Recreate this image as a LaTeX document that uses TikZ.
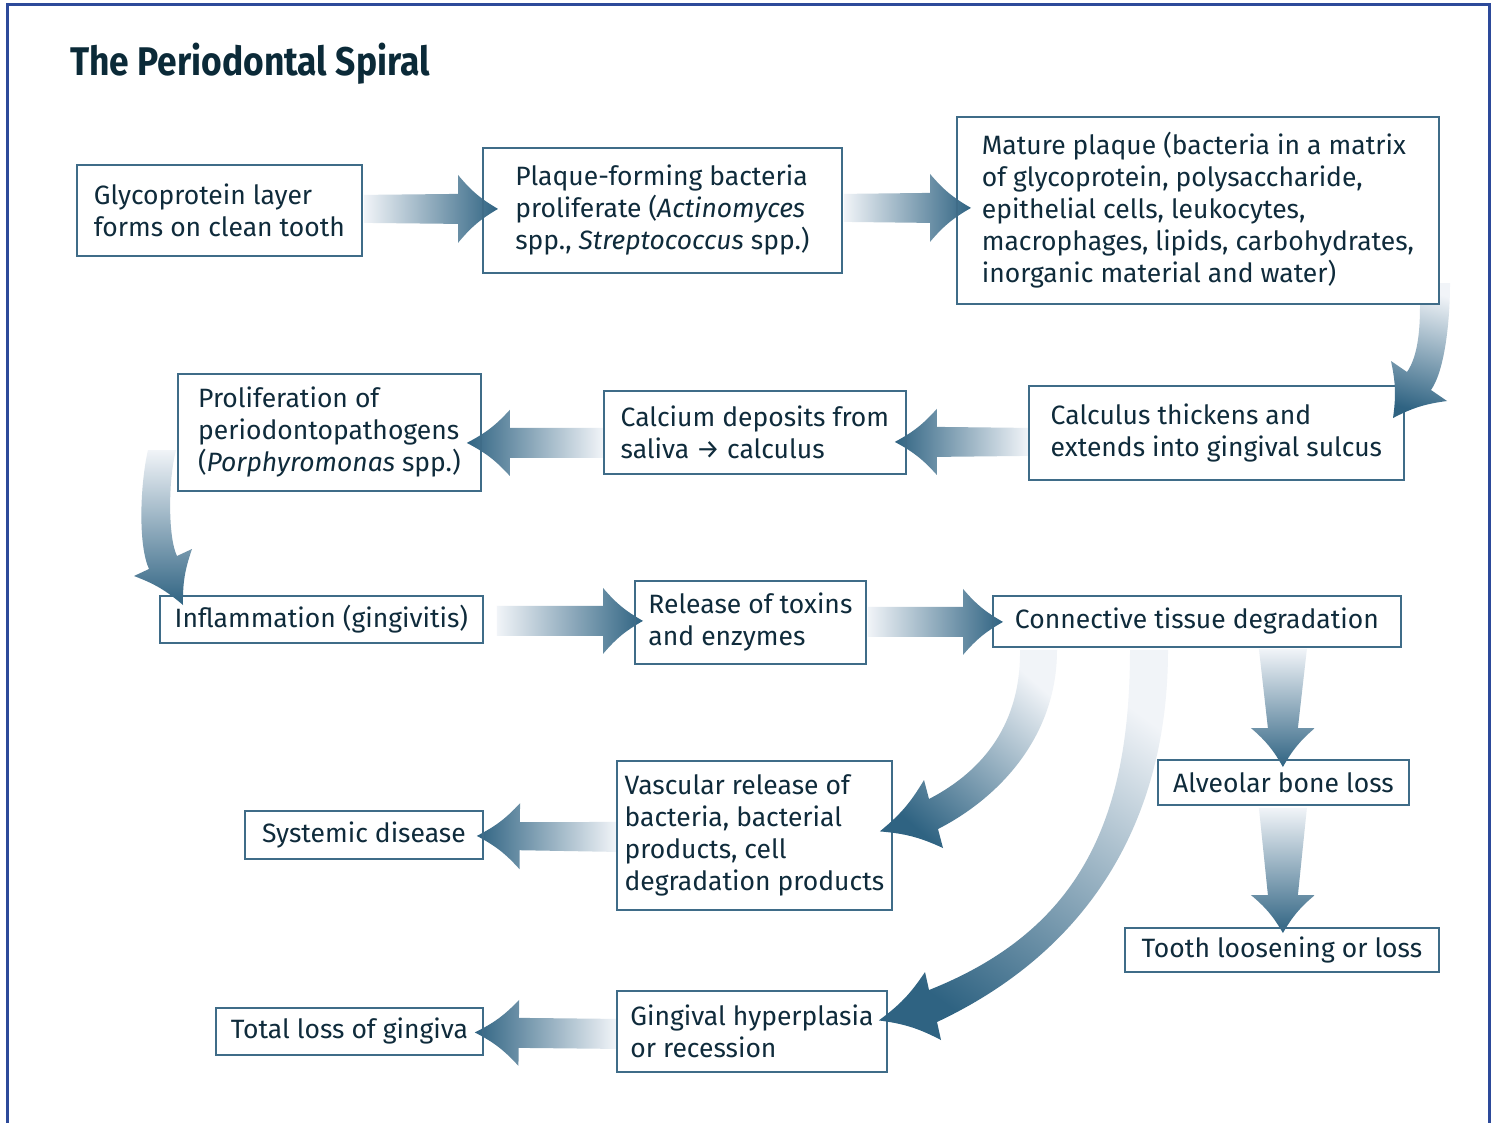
\documentclass[tikz,border=0pt]{standalone}
\usepackage{fontspec}
\usepackage{graphicx}
\setmainfont{Fira Sans}
\usetikzlibrary{calc}
\definecolor{framec}{HTML}{2D4A9A}
\definecolor{boxc}{HTML}{3F6C88}
\definecolor{txtc}{HTML}{0F2B3B}
\definecolor{titlec}{HTML}{0B2A38}
\definecolor{alight}{HTML}{F1F4F8}
\definecolor{adark}{HTML}{2F6382}
% straight fat arrow: #1 shading, #2 tail, #3 tip, #4 tail half width, #5 shaft half width at head, #6 head half width, #7 head length
\newcommand\fatarrow[7]{%
  \coordinate (fa-t) at (#2);
  \coordinate (fa-p) at (#3);
  \coordinate (fa-h) at ($(fa-p)!#7!(fa-t)$);
  \shade[#1] ($(fa-t)!#4!90:(fa-p)$) -- ($(fa-h)!#5!90:(fa-p)$) -- ($(fa-h)!#6!90:(fa-p)$)
     to[bend right=10] (fa-p) to[bend right=10] ($(fa-h)!#6!-90:(fa-p)$)
     -- ($(fa-h)!#5!-90:(fa-p)$) -- ($(fa-t)!#4!-90:(fa-p)$) -- cycle;
}
\begin{document}
\begin{tikzpicture}[x=1pt,y=-1pt,
  box/.style={draw=boxc, line width=1.8pt, text=txtc, align=left, anchor=north west,
    inner sep=0pt, font=\fontsize{26.5}{32}\selectfont},
  rarr/.style={left color=alight, right color=adark},
  larr/.style={left color=adark, right color=alight},
  darr/.style={top color=alight, bottom color=adark}]
\useasboundingbox (0,0) rectangle (1496,1122);
\fill[white] (0,0) rectangle (1496,1122);
\draw[framec, line width=3pt] (7,1130) -- (7,4) -- (1489,4) -- (1489,1130);

\node[anchor=base west, inner sep=0pt, text=titlec] (title) at (70,75)
  {\scalebox{0.885}[1]{\fontsize{40}{44}\selectfont\bfseries The Periodontal Spiral}};

% boxes (coordinates only, drawn later)
\path
 node[box, minimum width=285pt, minimum height=91pt, draw=none] (gly) at (76,164) {\phantom{x}}
 node[box, minimum width=359pt, minimum height=125pt, draw=none] (plq) at (482,147) {\phantom{x}}
 node[box, minimum width=482pt, minimum height=187pt, draw=none] (mat) at (956,116) {\phantom{x}}
 node[box, minimum width=375pt, minimum height=94pt, draw=none] (cth) at (1028,385) {\phantom{x}}
 node[box, minimum width=302pt, minimum height=83pt, draw=none] (cal) at (603,390) {\phantom{x}}
 node[box, minimum width=303pt, minimum height=117pt, draw=none] (pro) at (177,373) {\phantom{x}}
 node[box, minimum width=323pt, minimum height=47pt, draw=none] (inf) at (159,595) {\phantom{x}}
 node[box, minimum width=231pt, minimum height=83pt, draw=none] (rel) at (634,580) {\phantom{x}}
 node[box, minimum width=408pt, minimum height=51pt, draw=none] (con) at (992,595) {\phantom{x}}
 node[box, minimum width=251pt, minimum height=45pt, draw=none] (alv) at (1157,759) {\phantom{x}}
 node[box, minimum width=314pt, minimum height=44pt, draw=none] (too) at (1124,927) {\phantom{x}}
 node[box, minimum width=275pt, minimum height=149pt, draw=none] (vas) at (616,760) {\phantom{x}}
 node[box, minimum width=238pt, minimum height=48pt, draw=none] (sys) at (244,810) {\phantom{x}}
 node[box, minimum width=270pt, minimum height=81pt, draw=none] (gin) at (616,990) {\phantom{x}}
 node[box, minimum width=267pt, minimum height=47pt, draw=none] (tot) at (215,1007) {\phantom{x}};

% straight arrows (under the boxes)
\fatarrow{rarr}{$(gly.east)+(1,-1.5)$}{$(plq.west)+(16,-1.5)$}{14pt}{15pt}{34pt}{40pt}
\fatarrow{rarr}{$(plq.east)+(1,-2.5)$}{$(mat.west)+(15,-2.5)$}{14pt}{15pt}{34pt}{41pt}
\fatarrow{larr}{$(cth.west)+(0,9)$}{$(cal.east)+(-12,9.5)$}{14pt}{15pt}{33pt}{42pt}
\fatarrow{larr}{$(cal.west)+(0,10.5)$}{$(pro.east)+(-15,10.5)$}{15pt}{15pt}{33pt}{43pt}
\fatarrow{rarr}{$(inf.east)+(13,1.5)$}{$(rel.west)+(9,-1.5)$}{15pt}{15pt}{33pt}{40pt}
\fatarrow{rarr}{$(rel.east)+(1,-0.5)$}{$(con.west)+(11,0.5)$}{15pt}{15pt}{33pt}{40pt}
\fatarrow{larr}{$(vas.west)+(0,1.5)$}{$(sys.east)+(-7,1)$}{15pt}{14pt}{33pt}{43pt}
\fatarrow{larr}{$(gin.west)+(0,2.5)$}{$(tot.east)+(-9,1)$}{15pt}{15pt}{33pt}{44pt}
\fatarrow{darr}{$(con.south)+(86,1)$}{$(alv.north)+(-0.5,8)$}{24pt}{15pt}{32pt}{39pt}
\fatarrow{darr}{$(alv.south)+(-0.5,2)$}{$(too.north)+(1,6)$}{24pt}{15pt}{32pt}{38pt}

% boxes
\node[box, minimum width=285pt, minimum height=91pt] at (gly.north west) {Glycoprotein layer\\forms on clean tooth};
\node[box, minimum width=359pt, minimum height=125pt] at (plq.north west) {Plaque-forming bacteria\\proliferate (\textit{Actinomyces}\\spp., \textit{Streptococcus} spp.)};
\node[box, minimum width=482pt, minimum height=187pt] at (mat.north west) {Mature plaque (bacteria in a matrix\\of glycoprotein, polysaccharide,\\epithelial cells, leukocytes,\\macrophages, lipids, carbohydrates,\\inorganic material and water)};
\node[box, minimum width=375pt, minimum height=94pt] at (cth.north west) {Calculus thickens and\\extends into gingival sulcus};
\node[box, minimum width=302pt, minimum height=83pt] at (cal.north west) {Calcium deposits from\\saliva → calculus};
\node[box, minimum width=303pt, minimum height=117pt] at (pro.north west) {Proliferation of\\periodontopathogens\\(\textit{Porphyromonas} spp.)};
\node[box, minimum width=323pt, minimum height=47pt] at (inf.north west) {Inflammation (gingivitis)};
\node[box, minimum width=231pt, minimum height=83pt] at (rel.north west) {Release of toxins\\and enzymes};
\node[box, minimum width=408pt, minimum height=51pt] at (con.north west) {Connective tissue degradation};
\node[box, minimum width=251pt, minimum height=45pt] at (alv.north west) {Alveolar bone loss};
\node[box, minimum width=314pt, minimum height=44pt] at (too.north west) {Tooth loosening or loss};
\node[box, minimum width=275pt, minimum height=149pt] at (vas.north west) {Vascular release of\\bacteria, bacterial\\products, cell\\degradation products};
\node[box, minimum width=238pt, minimum height=48pt] at (sys.north west) {Systemic disease};
\node[box, minimum width=270pt, minimum height=81pt] at (gin.north west) {Gingival hyperplasia\\or recession};
\node[box, minimum width=267pt, minimum height=47pt] at (tot.north west) {Total loss of gingiva};

% curved arrows (over the boxes)
% mature plaque -> calculus thickens
\shade[darr, shading angle=-15] (1420,305) .. controls (1420,330) and (1418,356) .. (1407,372) -- (1391,361)
  to[bend left=10] (1393,418) to[bend left=10] (1447,401) -- (1431,390)
  .. controls (1445,370) and (1450,320) .. (1450,283) -- (1440,283) -- (1440,305) -- cycle;
% proliferation -> inflammation
\shade[darr] (148,450) .. controls (140,485) and (138,545) .. (149,569) -- (134,576)
  to[bend left=10] (183,605) to[bend left=10] (192,549) -- (177,556)
  .. controls (168,538) and (168,480) .. (176,450) -- cycle;
% connective tissue -> vascular release
\shade[darr, shading angle=-41] ($(con.south west)+(28,2)$) .. controls (1021,722) and (985,770) .. (929,799) -- (924,780)
  to[bend left=10] ($(vas.east)+(-13,-4)$) to[bend left=10] (943,848) -- (938,829)
  .. controls (995,800) and (1057,740) .. ($(con.south west)+(65,2)$) -- cycle;
% connective tissue -> gingival hyperplasia
\shade[darr, shading angle=-36] ($(con.south west)+(138,2)$) .. controls (1130,820) and (1080,930) .. (929,990) -- (925,972)
  to[bend left=10] ($(gin.east)+(-9,-11)$) to[bend left=10] (941,1040) -- (937,1022)
  .. controls (1090,950) and (1168,820) .. ($(con.south west)+(176,2)$) -- cycle;
\end{tikzpicture}
\end{document}
